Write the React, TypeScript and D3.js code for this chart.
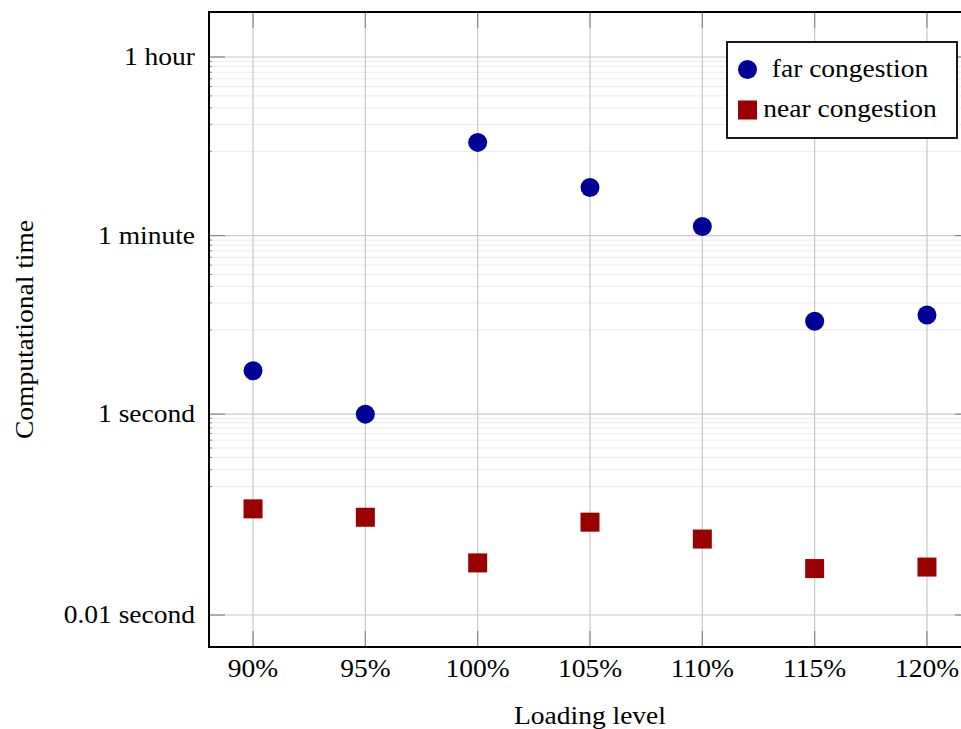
import React, { useEffect, useRef } from 'react';
import * as d3 from 'd3';

// Loading levels (percent) on the x axis
const loadLevels = [90, 95, 100, 105, 110, 115, 120];
const xTickLabels = ['90%', '95%', '100%', '105%', '110%', '115%', '120%'];

// Computational time in seconds
const farCongestion = [2.7, 1.0, 508, 181, 74, 8.4, 9.7];
const nearCongestion = [0.114, 0.094, 0.033, 0.084, 0.057, 0.029, 0.030];

// Labeled y ticks (seconds)
const yTickValues = [0.01, 1, 60, 3600];
const yTickLabels = ['0.01 second', '1 second', '1 minute', '1 hour'];

// Minor grid intervals, each split into 10 linear steps
const minorIntervals = [[0.1, 1], [1, 60], [60, 3600]];

const seriesNames = ['far congestion', 'near congestion'];
const FONT = '"Liberation Serif", "Times New Roman", serif';
const SX = 1.1; // glyphs in the reference are a bit wider than Liberation Serif

function App() {
    const svgRef = useRef<SVGSVGElement>(null);

    useEffect(() => {
        const svg = d3.select(svgRef.current);
        svg.selectAll('*').remove();

        const left = 209, right = 971, top = 12, bottom = 647;

        const x = d3.scaleLinear().domain([88.04, 121.96]).range([left, right]);
        const y = d3.scaleLog().domain([0.0048, 10100]).range([bottom, top]);

        const minorValues: number[] = [];
        minorIntervals.forEach(([a, b]) => {
            d3.range(1, 10).forEach(k => minorValues.push(a + (b - a) * k / 10));
        });

        // minor grid
        svg.append('g').selectAll('line').data(minorValues).enter().append('line')
            .attr('x1', left).attr('x2', right)
            .attr('y1', d => y(d)).attr('y2', d => y(d))
            .attr('stroke', '#ececec').attr('stroke-width', 1);

        // minor tick marks
        svg.append('g').selectAll('line').data(minorValues).enter().append('line')
            .attr('x1', left).attr('x2', left + 3)
            .attr('y1', d => y(d)).attr('y2', d => y(d))
            .attr('stroke', '#707070').attr('stroke-width', 0.8);

        // major grid
        svg.append('g').selectAll('line').data(yTickValues).enter().append('line')
            .attr('x1', left).attr('x2', right)
            .attr('y1', d => y(d)).attr('y2', d => y(d))
            .attr('stroke', '#c8c8c8').attr('stroke-width', 1.2);
        svg.append('g').selectAll('line').data(loadLevels).enter().append('line')
            .attr('x1', d => x(d)).attr('x2', d => x(d))
            .attr('y1', top).attr('y2', bottom)
            .attr('stroke', '#c8c8c8').attr('stroke-width', 1.2);

        // major tick marks
        svg.append('g').selectAll('line').data(yTickValues).enter().append('line')
            .attr('x1', left).attr('x2', left + 16)
            .attr('y1', d => y(d)).attr('y2', d => y(d))
            .attr('stroke', '#8a8a8a').attr('stroke-width', 1.2);
        svg.append('g').selectAll('line').data(yTickValues).enter().append('line')
            .attr('x1', right).attr('x2', right - 16)
            .attr('y1', d => y(d)).attr('y2', d => y(d))
            .attr('stroke', '#8a8a8a').attr('stroke-width', 1.2);
        [top, bottom].forEach(edge => {
            svg.append('g').selectAll('line').data(loadLevels).enter().append('line')
                .attr('x1', d => x(d)).attr('x2', d => x(d))
                .attr('y1', edge).attr('y2', edge === top ? top + 16 : bottom - 16)
                .attr('stroke', '#8a8a8a').attr('stroke-width', 1.2);
        });

        // axis frame
        svg.append('rect')
            .attr('x', left).attr('y', top)
            .attr('width', right - left).attr('height', bottom - top)
            .attr('fill', 'none').attr('stroke', '#000').attr('stroke-width', 2);

        // tick labels
        svg.append('g').selectAll('text').data(yTickValues).enter().append('text')
            .attr('transform', d => `translate(195, ${y(d) + 8}) scale(${SX}, 1)`)
            .attr('text-anchor', 'end')
            .attr('font-family', FONT).attr('font-size', 25)
            .text((d, i) => yTickLabels[i]);
        svg.append('g').selectAll('text').data(loadLevels).enter().append('text')
            .attr('transform', d => `translate(${x(d)}, 677) scale(${SX}, 1)`)
            .attr('text-anchor', 'middle')
            .attr('font-family', FONT).attr('font-size', 25)
            .text((d, i) => xTickLabels[i]);

        // axis titles
        svg.append('text')
            .attr('transform', `translate(${(left + right) / 2}, 724) scale(${SX}, 1)`)
            .attr('text-anchor', 'middle')
            .attr('font-family', FONT).attr('font-size', 25)
            .text('Loading level');
        svg.append('text')
            .attr('transform', `translate(33, ${(top + bottom) / 2}) rotate(-90) scale(${SX}, 1)`)
            .attr('text-anchor', 'middle')
            .attr('font-family', FONT).attr('font-size', 25)
            .text('Computational time');

        // far congestion points
        svg.append('g').selectAll('circle').data(farCongestion).enter().append('circle')
            .attr('cx', (d, i) => x(loadLevels[i]))
            .attr('cy', d => y(d))
            .attr('r', 9.5)
            .attr('fill', '#000099');

        // near congestion points
        svg.append('g').selectAll('rect').data(nearCongestion).enter().append('rect')
            .attr('x', (d, i) => x(loadLevels[i]) - 9.5)
            .attr('y', d => y(d) - 9.5)
            .attr('width', 19).attr('height', 19)
            .attr('fill', '#990000');

        // legend
        const legend = svg.append('g');
        legend.append('rect')
            .attr('x', 727).attr('y', 42).attr('width', 230).attr('height', 96)
            .attr('fill', '#fff').attr('stroke', '#000').attr('stroke-width', 1.8);
        legend.append('circle').attr('cx', 747.5).attr('cy', 69.5).attr('r', 9.5).attr('fill', '#000099');
        legend.append('rect').attr('x', 738).attr('y', 100.5).attr('width', 19).attr('height', 19).attr('fill', '#990000');
        legend.selectAll('text.lbl').data(seriesNames).enter().append('text')
            .attr('class', 'lbl')
            .attr('transform', (d, i) => `translate(850, ${77 + i * 40}) scale(${SX}, 1)`)
            .attr('text-anchor', 'middle')
            .attr('font-family', FONT).attr('font-size', 25)
            .text(d => d);
    }, []);

    return (
        <svg ref={svgRef} width={961} height={729}
            style={{ position: 'absolute', left: 0, top: 0, background: '#fff' }}></svg>
    );
}

export default App;
